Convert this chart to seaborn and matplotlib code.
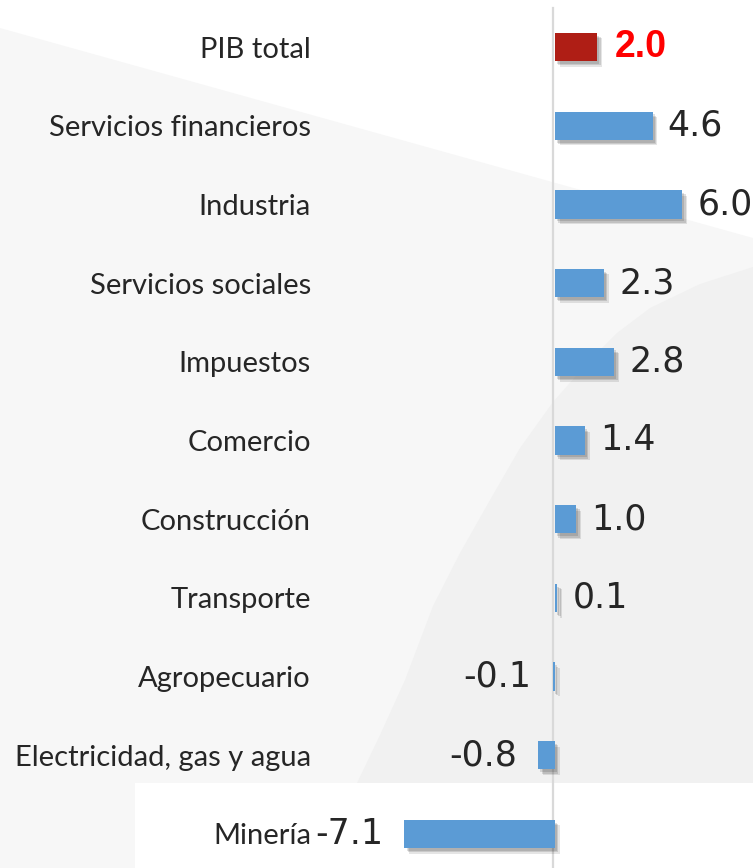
import numpy as np
import pandas as pd
import matplotlib
matplotlib.use("Agg")
import matplotlib.pyplot as plt
import seaborn as sns
from matplotlib import patheffects as pe
from matplotlib.patches import Polygon

# ---- data ----
categories = ["PIB total", "Servicios financieros", "Industria", "Servicios sociales",
              "Impuestos", "Comercio", "Construcción", "Transporte", "Agropecuario",
              "Electricidad, gas y agua", "Minería"]
values = [2.0, 4.6, 6.0, 2.3, 2.8, 1.4, 1.0, 0.1, -0.1, -0.8, -7.1]
value_labels = ["2.0", "4.6", "6.0", "2.3", "2.8", "1.4", "1.0", "0.1", "-0.1", "-0.8", "-7.1"]

BLUE = "#5B9BD5"
RED = "#AF1E15"
colors = {c: (RED if i == 0 else BLUE) for i, c in enumerate(categories)}

W, H = 753, 868
fig = plt.figure(figsize=(W / 100, H / 100), dpi=100)
fig.patch.set_facecolor("white")


def px(x, y):
    return (x / W, 1 - y / H)


# decorative background shapes
light = Polygon([px(0, 28), px(753, 238), px(753, 783), px(135, 783), px(135, 868), px(0, 868)],
                closed=True, transform=fig.transFigure, facecolor="#F7F7F7", edgecolor="none", zorder=-10)
fig.patches.append(light)
curve_pts = [(357, 783), (380, 735), (405, 680), (433, 606), (460, 553), (490, 500), (520, 448),
             (553, 402), (590, 360), (617, 333), (650, 308), (700, 284), (753, 267), (753, 783)]
dark = Polygon([px(*p) for p in curve_pts], closed=True, transform=fig.transFigure,
               facecolor="#F1F1F1", edgecolor="none", zorder=-9)
fig.patches.append(dark)

left_px = 320
ax = fig.add_axes([left_px / W, 0, 1 - left_px / W, 1])
ax.patch.set_alpha(0)

df = pd.DataFrame({"cat": categories, "val": values})
sns.barplot(data=df, x="val", y="cat", hue="cat", palette=colors, orient="h",
            width=0.36, saturation=1, legend=False, ax=ax, zorder=3)

scale = 21.2  # px per unit
ax.set_xlim(-(555 - left_px) / scale, (W - 555) / scale)
row = 78.7
ax.set_ylim((H - 47) / row, -47 / row)

for s in ax.spines.values():
    s.set_visible(False)
ax.set_xticks([])
ax.set_xlabel("")
ax.set_ylabel("")
ax.tick_params(axis="y", length=0, pad=6.5)
cat_font = ["Lato", "DejaVu Sans"]
for t in ax.get_yticklabels():
    t.set_fontfamily(cat_font)
    t.set_fontsize(21)
    t.set_color("#262626")

zero_line_x = -2 / scale
ax.axvline(zero_line_x, ymin=0, ymax=1 - 8 / H, color="#D9D9D9", lw=1.6, zorder=1)

shadow = [pe.SimplePatchShadow(offset=(1.5, -2), shadow_rgbFace="#000000", alpha=0.12),
          pe.SimplePatchShadow(offset=(2.5, -3), shadow_rgbFace="#000000", alpha=0.12),
          pe.SimplePatchShadow(offset=(3.5, -4), shadow_rgbFace="#000000", alpha=0.1),
          pe.Normal()]
for p in ax.patches:
    p.set_path_effects(shadow)

for i, (v, lab) in enumerate(zip(values, value_labels)):
    if i == 0:
        ax.text(v + 0.8, i, lab, ha="left", va="center", fontsize=27, fontweight="bold",
                color="#FF0000", family=["Liberation Sans", "DejaVu Sans"])
    elif v >= 0:
        ax.text(v + 0.72, i, lab, ha="left", va="center", fontsize=25,
                color="#262626", family=["DejaVu Sans"], clip_on=False)
    else:
        ax.text(v - 1.0, i, lab, ha="right", va="center", fontsize=25,
                color="#262626", family=["DejaVu Sans"], clip_on=False)

fig.savefig("out.png", dpi=100, facecolor=fig.get_facecolor())
